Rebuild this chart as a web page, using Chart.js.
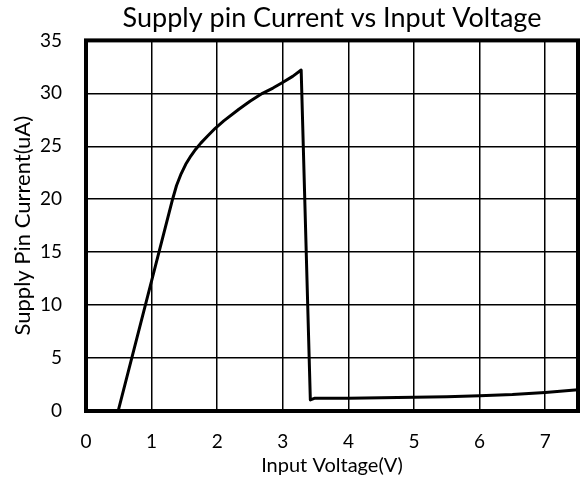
<!DOCTYPE html>
<html>
<head>
<meta charset="utf-8">
<style>
  html, body { margin: 0; padding: 0; background: #fff; }
  #wrap { width: 581px; height: 481px; }
</style>
</head>
<body>
<div id="wrap"><canvas id="myChart" width="581" height="481"></canvas></div>

<script src="https://cdn.jsdelivr.net/npm/chart.js"></script>
<script>
    // values
    const voltage = [0.49, 1.32, 1.38, 1.45, 1.52, 1.6, 1.67, 1.75, 1.85, 1.97, 2.1, 2.33, 2.5, 2.69, 2.85, 2.99, 3.15, 3.28, 3.42, 3.48, 4.0, 4.5, 5.0, 5.5, 6.0, 6.5, 7.0, 7.5];
    const current = [0, 20, 21.3, 22.4, 23.3, 24.1, 24.7, 25.3, 25.95, 26.7, 27.4, 28.5, 29.25, 30.0, 30.5, 31.0, 31.6, 32.2, 1.05, 1.2, 1.2, 1.25, 1.3, 1.35, 1.45, 1.55, 1.75, 2.0];
    const xTicks = [0, 1, 2, 3, 4, 5, 6, 7];
    const yTicks = [0, 5, 10, 15, 20, 25, 30, 35];

    const fontFamily = 'Lato, "Open Sans", sans-serif';

    let points = [];
    for (let i = 0; i < voltage.length; i++) {
        points.push({x: voltage[i], y: current[i]});
    }

    // thick frame all round the plot area
    const frame = {
        id: 'frame',
        beforeDatasetsDraw(chart) {
            const a = chart.chartArea;
            const c = chart.ctx;
            c.save();
            c.strokeStyle = '#000';
            c.lineWidth = 4;
            c.strokeRect(a.left, a.top, a.right - a.left, a.bottom - a.top);
            c.restore();
        }
    };

    const ctx = document.getElementById('myChart');
    new Chart(ctx, {
        type: 'scatter',
        data: {
            datasets: [{
                data: points,
                showLine: true,
                borderColor: '#000',
                borderWidth: 3,
                pointRadius: 0,
                tension: 0,
                borderJoinStyle: 'round',
                fill: false
            }]
        },
        options: {
            responsive: false,
            animation: false,
            layout: {padding: {left: 0, right: 3, top: 0, bottom: 0}},
            plugins: {
                legend: {display: false},
                tooltip: {enabled: false},
                title: {
                    display: true,
                    text: 'Supply pin Current vs Input Voltage',
                    fullSize: false,
                    color: '#000',
                    font: {family: fontFamily, size: 27, weight: 'normal'},
                    padding: {top: 2, bottom: 6}
                }
            },
            scales: {
                x: {
                    type: 'linear',
                    min: 0,
                    max: 7.5,
                    afterBuildTicks: axis => { axis.ticks = xTicks.map(v => ({value: v})); },
                    afterFit: s => { s.height = 70; },
                    grid: {color: '#000', lineWidth: 1.5, drawTicks: false},
                    border: {display: false},
                    ticks: {color: '#000', padding: 19, font: {family: fontFamily, size: 19}},
                    title: {
                        display: true,
                        text: 'Input Voltage(V)',
                        color: '#000',
                        font: {family: fontFamily, size: 20},
                        padding: {top: 0, bottom: 3}
                    }
                },
                y: {
                    type: 'linear',
                    min: 0,
                    max: 35,
                    afterBuildTicks: axis => { axis.ticks = yTicks.map(v => ({value: v})); },
                    afterFit: s => { s.width = 86; },
                    grid: {color: '#000', lineWidth: 1.5, drawTicks: false},
                    border: {display: false},
                    ticks: {color: '#000', padding: 24, font: {family: fontFamily, size: 19}},
                    title: {
                        display: true,
                        text: 'Supply Pin Current(uA)',
                        color: '#000',
                        font: {family: fontFamily, size: 22},
                        padding: {top: 10, bottom: 0}
                    }
                }
            }
        },
        plugins: [frame]
    });
</script>
</body>
</html>
